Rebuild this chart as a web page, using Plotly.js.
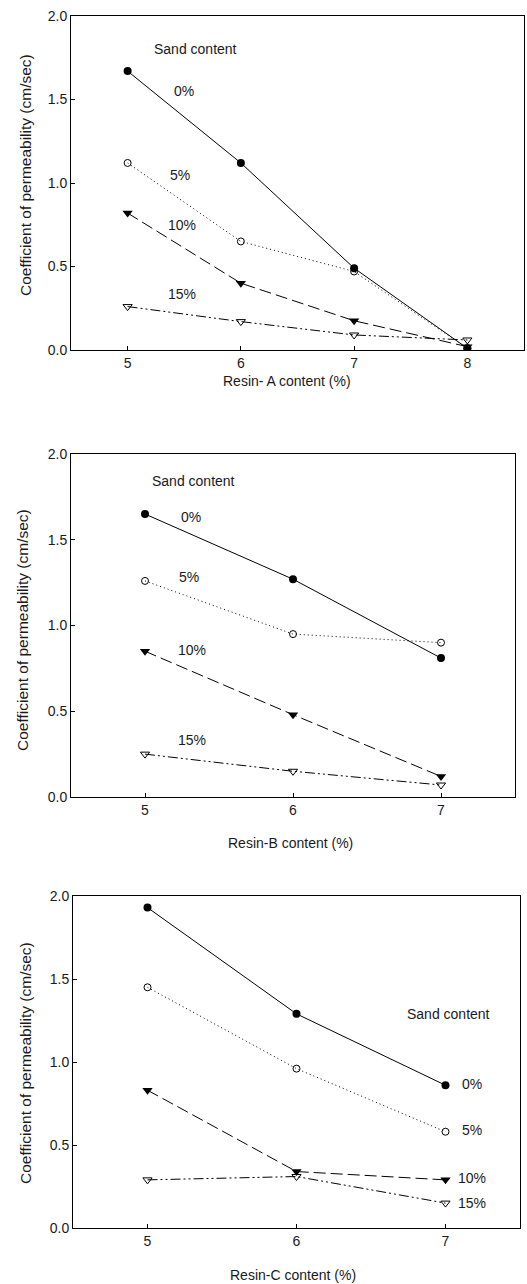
<!DOCTYPE html>
<html>
<head>
<meta charset="utf-8">
<script src="https://cdn.plot.ly/plotly-3.0.1.min.js"></script>
<style>html,body{margin:0;padding:0;background:#fff;}#chart{width:527px;height:1284px;}</style>
</head>
<body>
<div id="chart"></div>
<script>
// ---- data ----
const sandLabels = ["0%", "5%", "10%", "15%"];

const resinA = [5, 6, 7, 8];
const a0  = [1.67, 1.12, 0.49, 0.01];
const a5  = [1.12, 0.65, 0.47, 0.01];
const a10 = [0.82, 0.40, 0.175, 0.02];
const a15 = [0.26, 0.17, 0.09, 0.06];

const resinB = [5, 6, 7];
const b0  = [1.65, 1.27, 0.81];
const b5  = [1.26, 0.95, 0.90];
const b10 = [0.85, 0.48, 0.12];
const b15 = [0.25, 0.15, 0.07];

const resinC = [5, 6, 7];
const c0  = [1.93, 1.29, 0.86];
const c5  = [1.45, 0.96, 0.58];
const c10 = [0.83, 0.34, 0.29];
const c15 = [0.29, 0.31, 0.15];

const xTitles = ["Resin- A content (%)", "Resin-B content (%)", "Resin-C content (%)"];
const yTitle = "Coefficient of permeability (cm/sec)";
const legendTitle = "Sand content";

// ---- styles ----
const W = 527, H = 1284;
const styles = [
  {dash: "solid", marker: {symbol: "circle", size: 8, color: "#000"}},
  {dash: "1px,3px", marker: {symbol: "circle-open", size: 7, color: "#000", line: {width: 1, color: "#000"}}},
  {dash: "12px,5px", marker: {symbol: "triangle-down", size: 9, color: "#000"}},
  {dash: "10px,3px,2px,3px,2px,3px", marker: {symbol: "triangle-down-open", size: 8, color: "#000", line: {width: 1, color: "#000"}}}
];

function mk(x, ys, ax) {
  return ys.map((y, i) => ({
    x: x, y: y, type: "scatter", mode: "lines+markers",
    xaxis: "x" + (ax === 1 ? "" : ax), yaxis: "y" + (ax === 1 ? "" : ax),
    line: {color: "#000", width: 1, dash: styles[i].dash},
    marker: styles[i].marker, showlegend: false, name: sandLabels[i]
  }));
}

const data = [].concat(
  mk(resinA, [a0, a5, a10, a15], 1),
  mk(resinB, [b0, b5, b10, b15], 2),
  mk(resinC, [c0, c5, c10, c15], 3)
);

const font = {family: "Liberation Sans, Arial, sans-serif", size: 14, color: "#1a1a1a"};
const yFont = {family: "Liberation Sans, Arial, sans-serif", size: 15.5, color: "#1a1a1a"};

function xa(l, r, range, anchor) {
  return {domain: [l / W, r / W], range: range, anchor: anchor, dtick: 1,
    showline: true, mirror: true, linecolor: "#000", linewidth: 1,
    ticks: "inside", ticklen: 4, tickcolor: "#000", showgrid: false, zeroline: false,
    tickfont: font, fixedrange: true};
}
function ya(top, bot, anchor) {
  return {domain: [1 - bot / H, 1 - top / H], range: [0, 2], anchor: anchor, dtick: 0.5,
    tickformat: ".1f", showline: true, mirror: true, linecolor: "#000", linewidth: 1,
    ticks: "inside", ticklen: 4, tickcolor: "#000", showgrid: false, zeroline: false,
    tickfont: font, fixedrange: true};
}

function pa(text, x, y, rot, f) {
  return {text: text, xref: "paper", yref: "paper", x: x / W, y: 1 - y / H,
    showarrow: false, font: f || font, textangle: rot || 0, xanchor: "center", yanchor: "middle"};
}
function da(text, ax, x, y, anchor) {
  const s = ax === 1 ? "" : ax;
  return {text: text, xref: "x" + s, yref: "y" + s, x: x, y: y, showarrow: false,
    font: font, xanchor: anchor || "center", yanchor: "middle"};
}

const annotations = [
  pa(xTitles[0], 287, 381), pa(xTitles[1], 290, 843), pa(xTitles[2], 293, 1275),
  pa(yTitle, 25, 175, -90, yFont), pa(yTitle, 22, 630, -90, yFont), pa(yTitle, 25, 1063, -90, yFont),
  da(legendTitle, 1, 5.595, 1.80),
  da(sandLabels[0], 1, 5.50, 1.55), da(sandLabels[1], 1, 5.46, 1.05),
  da(sandLabels[2], 1, 5.48, 0.75), da(sandLabels[3], 1, 5.48, 0.335),
  da(legendTitle, 2, 5.33, 1.84),
  da(sandLabels[0], 2, 5.31, 1.63), da(sandLabels[1], 2, 5.30, 1.28),
  da(sandLabels[2], 2, 5.32, 0.86), da(sandLabels[3], 2, 5.32, 0.33),
  da(legendTitle, 3, 7.02, 1.29),
  da(sandLabels[0], 3, 7.18, 0.87), da(sandLabels[1], 3, 7.18, 0.59),
  da(sandLabels[2], 3, 7.18, 0.30), da(sandLabels[3], 3, 7.18, 0.15)
];

const layout = {
  width: W, height: H,
  margin: {l: 0, r: 0, t: 0, b: 0},
  paper_bgcolor: "#fff", plot_bgcolor: "#fff",
  font: font, showlegend: false,
  xaxis: xa(71, 524, [4.5, 8.5], "y"),
  yaxis: ya(16, 350, "x"),
  xaxis2: xa(71, 515, [4.5, 7.5], "y2"),
  yaxis2: ya(454, 797, "x2"),
  xaxis3: xa(73, 520, [4.5, 7.5], "y3"),
  yaxis3: ya(896, 1228, "x3"),
  annotations: annotations
};

Plotly.newPlot("chart", data, layout, {displayModeBar: false, staticPlot: true});
</script>
</body>
</html>
